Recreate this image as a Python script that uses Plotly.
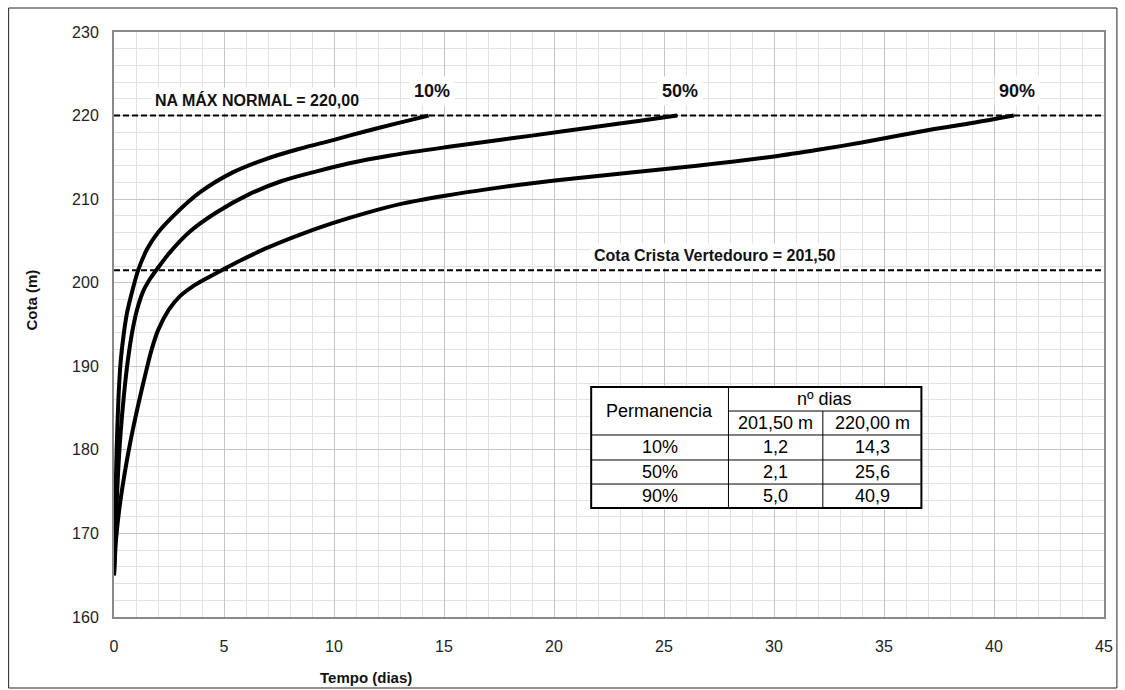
import plotly.graph_objects as go

# ---------------- data ----------------
t_10 = [0, 0.05, 0.12, 0.2, 0.3, 0.45, 0.6, 0.85, 1.1, 1.5, 2.0, 2.7, 3.9, 5.4, 6.9, 8.4, 10.0, 11.4, 12.9, 14.3]
h_10 = [165, 172, 180, 186, 190.5, 194, 196.5, 199.2, 201.5, 204, 206, 208, 210.8, 213.2, 214.8, 216, 217.1, 218.1, 219.1, 220]

t_50 = [0, 0.08, 0.18, 0.3, 0.45, 0.62, 0.82, 1.05, 1.33, 1.65, 1.95, 2.53, 3.44, 4.65, 6.15, 7.66, 9.17, 10.7, 12.5, 15.05, 17.0, 19.0, 22.0, 24.0, 25.6]
h_50 = [165, 171, 177, 182, 186.5, 190.5, 194.0, 196.8, 199.0, 200.5, 201.6, 203.6, 206.1, 208.4, 210.6, 212.2, 213.3, 214.3, 215.2, 216.2, 216.9, 217.6, 218.7, 219.4, 220]

t_90 = [0, 0.1, 0.27, 0.57, 0.87, 1.18, 1.45, 1.7, 2.0, 2.5, 3.0, 3.6, 4.19, 4.9, 5.7, 6.9, 8.4, 9.9, 11.4, 13.0, 15.05, 17.0, 19.0, 21.0, 23.5, 26.5, 30.0, 32.0, 34.05, 37.1, 39.0, 40.9]
h_90 = [165, 169.5, 173.5, 178.5, 182.6, 186.3, 189.3, 191.9, 194.3, 196.8, 198.4, 199.6, 200.5, 201.5, 202.6, 204.1, 205.7, 207.1, 208.3, 209.4, 210.4, 211.2, 211.9, 212.5, 213.2, 214.0, 215.1, 215.9, 216.8, 218.3, 219.1, 220]

series_names = ["10%", "50%", "90%"]
nivel_max = 220.00
nivel_crista = 201.50
label_max = "NA MÁX NORMAL = 220,00"
label_crista = "Cota Crista Vertedouro = 201,50"

tab_perm = ["10%", "50%", "90%"]
tab_dias_crista = [1.2, 2.1, 5.0]
tab_dias_max = [14.3, 25.6, 40.9]

x_title = "Tempo (dias)"
y_title = "Cota (m)"

FONT = "Liberation Sans, Arial, sans-serif"


def fmt(v):
    return f"{v:.1f}".replace(".", ",")


fig = go.Figure()

curves = [(t_10, h_10), (t_50, h_50), (t_90, h_90)]
for (tt, hh), name in zip(curves, series_names):
    fig.add_trace(go.Scatter(x=tt, y=hh, mode="lines", name=name,
                             line=dict(color="black", width=4, shape="spline", smoothing=0.8),
                             showlegend=False, hoverinfo="x+y"))
    fig.add_annotation(x=tt[-1], y=222.9, xref="x", yref="y", text=f"<b>{name}</b>",
                       showarrow=False, xshift=3, bgcolor="white", borderpad=4,
                       xanchor="center", yanchor="middle",
                       font=dict(family=FONT, size=18, color="#111"))

# reference dashed lines
for lvl in (nivel_max, nivel_crista):
    fig.add_shape(type="line", xref="paper", yref="y", x0=0, x1=1, y0=lvl, y1=lvl,
                  line=dict(color="black", width=2, dash="6px,3px"), layer="above")

fig.add_annotation(x=6.5, y=221.9, xref="x", yref="y", text=f"<b>{label_max}</b>",
                   showarrow=False, bgcolor="white", borderpad=3,
                   xanchor="center", yanchor="middle",
                   font=dict(family=FONT, size=16, color="#111"))
fig.add_annotation(x=27.3, y=203.2, xref="x", yref="y", text=f"<b>{label_crista}</b>",
                   showarrow=False, bgcolor="white", borderpad=3,
                   xanchor="center", yanchor="middle",
                   font=dict(family=FONT, size=16, color="#111"))

# ---------------- table ----------------
cx = [21.69, 27.93, 32.22, 36.7]       # column borders (data x)
ry = [187.52, 184.65, 181.78, 178.79, 175.91, 173.04]  # row borders (data y)
fig.add_shape(type="rect", xref="x", yref="y", x0=cx[0], x1=cx[3], y0=ry[5], y1=ry[0],
              fillcolor="white", line=dict(color="black", width=2), layer="above")
for i in (2, 3, 4):
    fig.add_shape(type="line", xref="x", yref="y", x0=cx[0], x1=cx[3], y0=ry[i], y1=ry[i],
                  line=dict(color="black", width=1), layer="above")
fig.add_shape(type="line", xref="x", yref="y", x0=cx[1], x1=cx[3], y0=ry[1], y1=ry[1],
              line=dict(color="black", width=1), layer="above")
fig.add_shape(type="line", xref="x", yref="y", x0=cx[1], x1=cx[1], y0=ry[5], y1=ry[0],
              line=dict(color="black", width=1), layer="above")
fig.add_shape(type="line", xref="x", yref="y", x0=cx[2], x1=cx[2], y0=ry[5], y1=ry[1],
              line=dict(color="black", width=1), layer="above")

tfont = dict(family=FONT, size=18, color="black")


def cell(x, y, txt):
    fig.add_annotation(x=x, y=y, xref="x", yref="y", text=txt, showarrow=False, font=tfont,
                       xanchor="center", yanchor="middle")


def mid(a, b):
    return (a + b) / 2


cell(mid(cx[0], cx[1]), mid(ry[0], ry[2]), "Permanencia")
cell(mid(cx[1], cx[3]), mid(ry[0], ry[1]), "nº dias")
cell(mid(cx[1], cx[2]), mid(ry[1], ry[2]), "201,50 m")
cell(mid(cx[2], cx[3]), mid(ry[1], ry[2]), "220,00 m")
for k in range(3):
    yc = mid(ry[2 + k], ry[3 + k])
    cell(mid(cx[0], cx[1]), yc, tab_perm[k])
    cell(mid(cx[1], cx[2]), yc, fmt(tab_dias_crista[k]))
    cell(mid(cx[2], cx[3]), yc, fmt(tab_dias_max[k]))

# axis titles
fig.add_annotation(x=(368 - 114) / 996, y=(617 - 677) / 585, xref="paper", yref="paper",
                   text=f"<b>{x_title}</b>", showarrow=False,
                   xanchor="center", yanchor="middle",
                   font=dict(family=FONT, size=15, color="#111"))
fig.add_annotation(x=(30 - 114) / 996, y=(617 - 300) / 585, xref="paper", yref="paper",
                   text=f"<b>{y_title}</b>", showarrow=False, textangle=-90,
                   xanchor="center", yanchor="middle",
                   font=dict(family=FONT, size=15, color="#111"))

# outer chart border
fig.add_shape(type="rect", xref="paper", yref="paper",
              x0=(8 - 114) / 996, x1=(1123 - 114) / 996,
              y0=(617 - 688) / 585, y1=(617 - 8) / 585,
              line=dict(color="#222", width=1), layer="above")

axis_common = dict(showgrid=True, gridcolor="#c4c4c4", gridwidth=1,
                   showline=True, linecolor="#8a8a8a", linewidth=2, mirror=True,
                   zeroline=False, ticks="",
                   tickfont=dict(family=FONT, size=16, color="#222"))

fig.update_layout(
    width=1125, height=690,
    margin=dict(l=114, r=15, t=32, b=73),
    paper_bgcolor="white", plot_bgcolor="white",
    xaxis=dict(range=[0, 45], dtick=5, tick0=0,
               minor=dict(dtick=1, showgrid=True, gridcolor="#e2e2e2", gridwidth=1),
               ticklabelstandoff=14, **axis_common),
    yaxis=dict(range=[160, 230], dtick=10, tick0=160,
               minor=dict(dtick=2, showgrid=True, gridcolor="#e2e2e2", gridwidth=1),
               ticklabelstandoff=10, **axis_common),
)

fig.write_html("out.html")
